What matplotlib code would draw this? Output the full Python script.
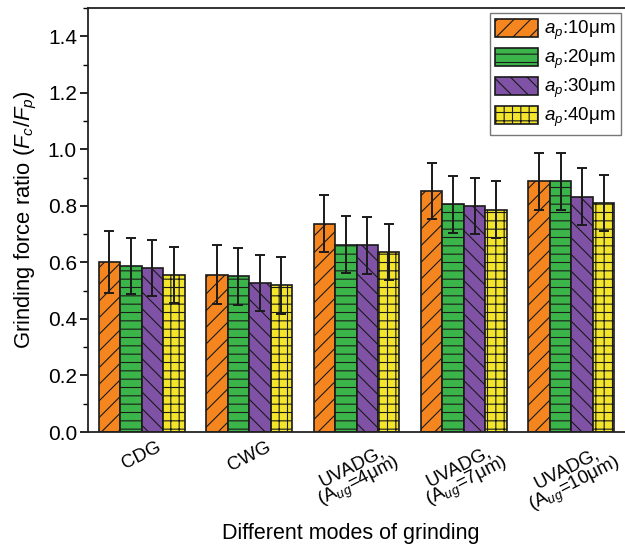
import numpy as np
import matplotlib
matplotlib.use('Agg')
import matplotlib.pyplot as plt

plt.rcParams['font.family'] = ['Liberation Sans', 'DejaVu Sans']
plt.rcParams['mathtext.fontset'] = 'custom'
plt.rcParams['mathtext.rm'] = 'Liberation Sans'
plt.rcParams['mathtext.it'] = 'Liberation Sans:italic'
plt.rcParams['hatch.linewidth'] = 0.8

modes = ['CDG', 'CWG', 'UVADG,\n(A$_{ug}$=4μm)', 'UVADG,\n(A$_{ug}$=7μm)', 'UVADG,\n(A$_{ug}$=10μm)']
series = ['$a_p$:10μm', '$a_p$:20μm', '$a_p$:30μm', '$a_p$:40μm']

ap10 = [0.600, 0.557, 0.737, 0.853, 0.887]
ap20 = [0.588, 0.551, 0.663, 0.805, 0.887]
ap30 = [0.581, 0.527, 0.660, 0.800, 0.833]
ap40 = [0.555, 0.519, 0.637, 0.787, 0.810]

err10 = [0.11, 0.105, 0.10, 0.10, 0.10]
err20 = [0.10, 0.10, 0.10, 0.10, 0.10]
err30 = [0.10, 0.10, 0.10, 0.10, 0.10]
err40 = [0.10, 0.10, 0.10, 0.10, 0.10]

colors = ['#F5861F', '#3BB44A', '#8052A6', '#F2E52C']
hatches = ['//', '--', '\\\\', '++']

fig = plt.figure(figsize=(6.25, 5.44), dpi=100)
ax = fig.add_axes([88 / 625, 1 - 432 / 544, 537 / 625, 424 / 544])

x = np.arange(len(modes))
w = 0.2
for i, (vals, errs) in enumerate(zip([ap10, ap20, ap30, ap40], [err10, err20, err30, err40])):
    ax.bar(x + (i - 1.5) * w, vals, w, color=colors[i], edgecolor='#1a1a1a', linewidth=1.2,
           hatch=hatches[i], label=series[i],
           yerr=errs, error_kw=dict(ecolor='#1a1a1a', elinewidth=1.4, capsize=3.5, capthick=1.4))

ax.set_xlim(-0.5, 4.5)
ax.set_ylim(0, 1.5)
ax.set_yticks(np.arange(0, 1.41, 0.2))
ax.set_yticks(np.arange(0, 1.51, 0.1), minor=True)
ax.yaxis.set_major_formatter(matplotlib.ticker.FormatStrFormatter('%.1f'))
ax.tick_params(axis='y', which='major', length=6, width=1.2, labelsize=15, pad=2)
ax.tick_params(axis='y', which='minor', length=3.5, width=1.0)
ax.tick_params(axis='x', length=0, labelsize=13.5, pad=5)
ax.set_xticks(x)
ax.set_xticklabels(modes, rotation=27, ha='center', va='top', linespacing=0.85)
for s in ax.spines.values():
    s.set_linewidth(1.3)
    s.set_color('#222222')
ax.spines['right'].set_visible(False)

ax.set_ylabel('Grinding force ratio ($F_c$/$F_p$)', fontsize=15.8, labelpad=6)
ax.set_xlabel('Different modes of grinding', fontsize=15.5)
ax.xaxis.set_label_coords(0.49, -0.215)

leg = ax.legend(loc='upper right', bbox_to_anchor=(1.0, 0.996), fontsize=13.5, frameon=True,
                fancybox=False, edgecolor='#555555', handlelength=2.25, handleheight=1.1,
                handletextpad=0.35, borderpad=0.3, labelspacing=0.3, borderaxespad=0.2)
leg.get_frame().set_linewidth(1.0)

fig.savefig('out.png', dpi=100)
